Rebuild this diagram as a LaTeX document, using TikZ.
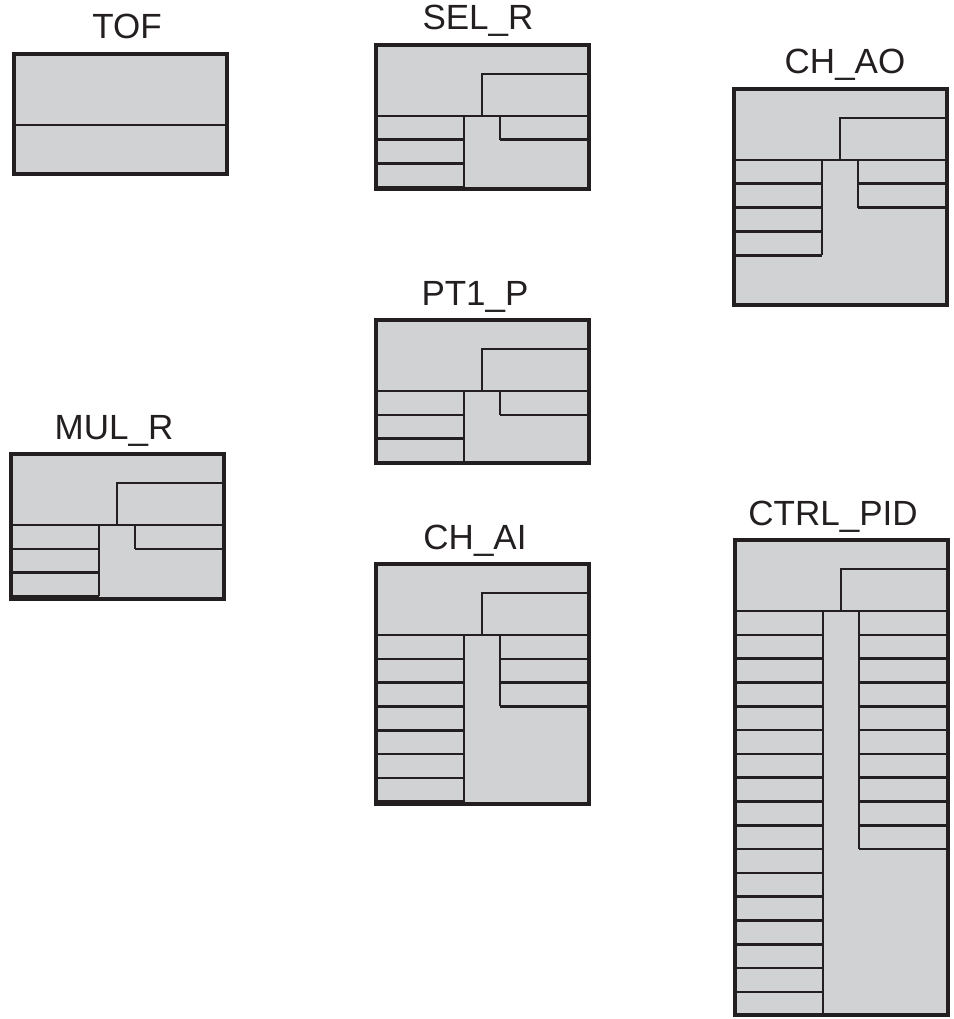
\documentclass[tikz,border=0pt]{standalone}
\usepackage{fontspec}
\setmainfont{Liberation Sans}

\definecolor{fbdgray}{RGB}{209,210,212}
\definecolor{fbdblack}{RGB}{35,31,32}

% function block: name, left x, top y, bottom y, #inputs, #outputs, title, title x
\newcommand{\fbdblock}[8]{%
  \begin{scope}[shift={(#2,#3)}]
    \fill[blockfill] (0,0) rectangle (213,#4-#3);
    \draw[pinline] (0,71) -- (213,71);
    \draw[pinline] (106,71) |- (213,29);
    % inputs
    \foreach \k in {1,...,#5} \draw[pinline] (0,71+\k*23.8) -- (88,71+\k*23.8);
    \draw[pinline] (88,71) -- (88,71+#5*23.8);
    % outputs
    \foreach \k in {1,...,#6} \draw[pinline] (124,71+\k*23.8) -- (213,71+\k*23.8);
    \draw[pinline] (124,71) -- (124,71+#6*23.8);
    \draw[blockframe] (0,0) rectangle (213,#4-#3);
  \end{scope}
  \node[blocklabel] (#1) at (#8,#3-15) {#7};
}

\begin{document}
\begin{tikzpicture}[x=1pt,y=-1pt]
    \tikzstyle{blockfill}=[fill=fbdgray]
    \tikzstyle{pinline}=[draw=fbdblack,line width=2.6pt]
    \tikzstyle{blockframe}=[draw=fbdblack,line width=4.5pt]
    \tikzstyle{blocklabel}=[anchor=base,inner sep=0pt,text=fbdblack,font=\fontsize{35}{42}\selectfont]
    \useasboundingbox (0,0) rectangle (953,1019);

    % timer block, no pins
    \fill[blockfill] (14,54) rectangle (227,174);
    \draw[pinline] (14,125) -- (227,125);
    \draw[blockframe] (14,54) rectangle (227,174);
    \node[blocklabel] (tof) at (127,39) {TOF};

    \fbdblock{selr}{376}{45}{189}{3}{1}{SEL\_R}{478}
    \fbdblock{chao}{734}{89}{305}{4}{2}{CH\_AO}{845}
    \fbdblock{ptp}{376}{320}{463}{3}{1}{PT1\_P}{475}
    \fbdblock{mulr}{11}{454}{599}{3}{1}{MUL\_R}{114}
    \fbdblock{chai}{376}{564}{804}{7}{3}{CH\_AI}{475}
    \fbdblock{pid}{735}{540}{1015}{17}{10}{CTRL\_PID}{833}
\end{tikzpicture}
\end{document}
